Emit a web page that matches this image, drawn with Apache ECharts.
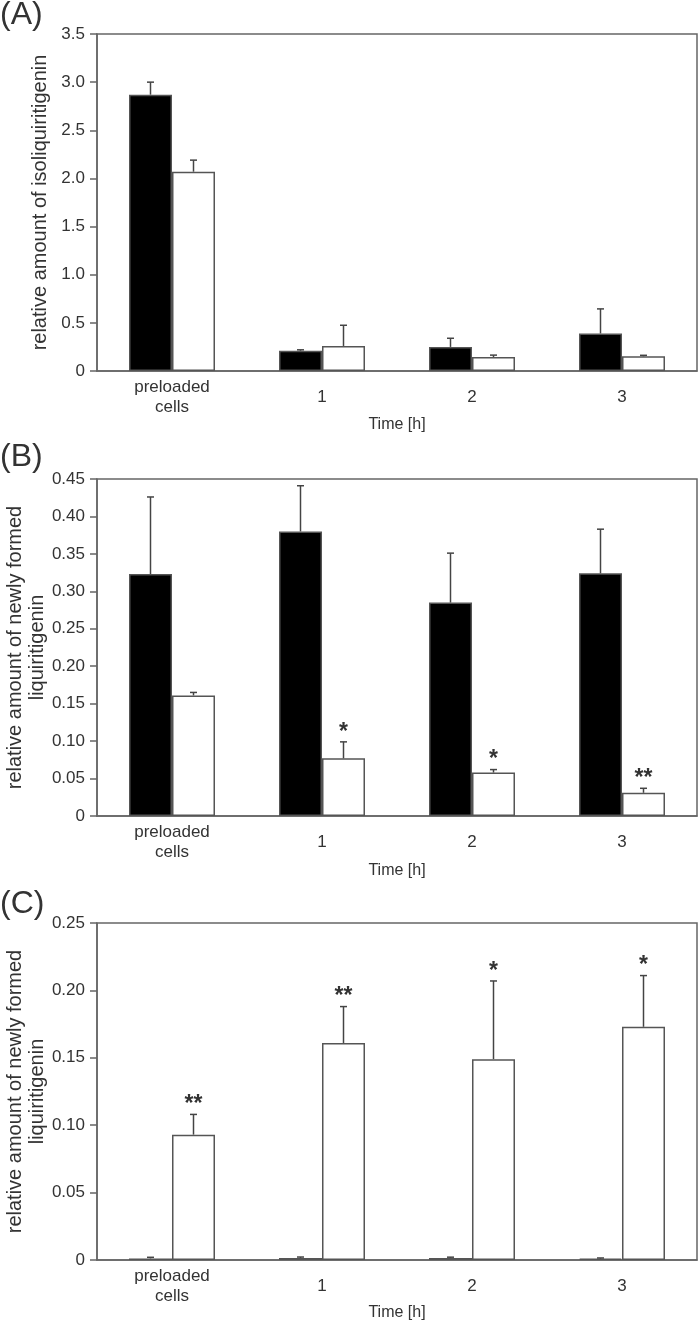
<!DOCTYPE html>
<html>
<head>
<meta charset="utf-8">
<script src="https://cdn.jsdelivr.net/npm/echarts@6/dist/echarts.min.js"></script>
<style>
html,body{margin:0;padding:0;background:#fff;}
#chart{width:700px;height:1325px;}
</style>
</head>
<body>
<div id="chart"></div>
<script>
// ---- data ----
const categories = ['preloaded\ncells', '1', '2', '3'];

const aBlack = [2.87, 0.21, 0.25, 0.39];
const aBlackErr = [0.13, 0.01, 0.09, 0.255];
const aWhite = [2.07, 0.26, 0.145, 0.153];
const aWhiteErr = [0.12, 0.215, 0.02, 0.01];
const aTicks = ['0', '0.5', '1.0', '1.5', '2.0', '2.5', '3.0', '3.5'];

const bBlack = [0.323, 0.380, 0.285, 0.324];
const bBlackErr = [0.103, 0.061, 0.066, 0.059];
const bWhite = [0.161, 0.077, 0.058, 0.031];
const bWhiteErr = [0.004, 0.022, 0.004, 0.006];
const bStars = ['', '*', '*', '**'];
const bTicks = ['0', '0.05', '0.10', '0.15', '0.20', '0.25', '0.30', '0.35', '0.40', '0.45'];

const cBlack = [0.0012, 0.0015, 0.0015, 0.001];
const cBlackErr = [0.0008, 0.0007, 0.0006, 0.0005];
const cWhite = [0.093, 0.161, 0.149, 0.173];
const cWhiteErr = [0.015, 0.027, 0.058, 0.038];
const cStars = ['**', '**', '*', '*'];
const cTicks = ['0', '0.05', '0.10', '0.15', '0.20', '0.25'];

const yNameA = 'relative amount of isoliquiritigenin';
const yNameBC = 'relative amount of newly formed\nliquiritigenin';
const xName = 'Time [h]';

// ---- styling ----
const FONT = "'Liberation Sans', Arial, Helvetica, sans-serif";
const TXT = '#333';
const AX = '#666';
const BAR_W = 43;

const panels = [
  {top: 34, black: aBlack, blackErr: aBlackErr, white: aWhite, whiteErr: aWhiteErr, stars: null,
   max: 3.5, interval: 0.5, ticks: aTicks, yName: yNameA, nameGap: 46, xGap: 46, letter: '(A)', letterY: 17},
  {top: 479, black: bBlack, blackErr: bBlackErr, white: bWhite, whiteErr: bWhiteErr, stars: bStars,
   max: 0.45, interval: 0.05, ticks: bTicks, yName: yNameBC, nameGap: 49, xGap: 47, letter: '(B)', letterY: 459},
  {top: 923, black: cBlack, blackErr: cBlackErr, white: cWhite, whiteErr: cWhiteErr, stars: cStars,
   max: 0.25, interval: 0.05, ticks: cTicks, yName: yNameBC, nameGap: 49, xGap: 45, letter: '(C)', letterY: 906}
];

function makeErr(side, stars) {
  return function (params, api) {
    const k = api.value(0), m = api.value(1), e = api.value(2);
    const p0 = api.coord([k, m]);
    const p1 = api.coord([k, m + e]);
    const x = p0[0] + side * BAR_W / 2;
    const ls = {stroke: '#444', lineWidth: 1.5};
    const children = [
      {type: 'line', shape: {x1: x, y1: p0[1], x2: x, y2: p1[1]}, style: ls},
      {type: 'line', shape: {x1: x - 3.5, y1: p1[1], x2: x + 3.5, y2: p1[1]}, style: ls}
    ];
    if (stars && stars[params.dataIndex]) {
      children.push({
        type: 'text',
        style: {
          text: stars[params.dataIndex], x: x, y: p1[1] - 21,
          align: 'center', textAlign: 'center', verticalAlign: 'top', textVerticalAlign: 'top',
          font: 'bold 23px ' + FONT, fill: TXT
        }
      });
    }
    return {type: 'group', children: children};
  };
}

const grid = [], xAxis = [], yAxis = [], series = [], graphic = [];
panels.forEach((p, i) => {
  grid.push({left: 97, width: 600, top: p.top, height: 337, show: true,
    containLabel: false, outerBoundsMode: 'none',
    borderColor: AX, borderWidth: 1.5, backgroundColor: 'transparent'});
  xAxis.push({
    gridIndex: i, type: 'category', data: categories,
    name: xName, nameLocation: 'middle', nameGap: p.xGap, nameMoveOverlap: false,
    nameTextStyle: {fontFamily: FONT, fontSize: 16, color: TXT},
    axisLine: {lineStyle: {color: AX, width: 1.5}},
    axisTick: {show: false},
    axisLabel: {
      interval: 0, margin: 6, fontFamily: FONT, fontSize: 17, color: TXT, lineHeight: 20,
      formatter: v => v.indexOf('\n') >= 0 ? v : '{s|' + v + '}',
      rich: {s: {lineHeight: 40, fontFamily: FONT, fontSize: 17, color: TXT}}
    }
  });
  yAxis.push({
    gridIndex: i, type: 'value', min: 0, max: p.max, interval: p.interval,
    name: p.yName, nameLocation: 'middle', nameRotate: 90, nameGap: p.nameGap, nameMoveOverlap: false,
    nameTextStyle: {fontFamily: FONT, fontSize: 20, color: TXT, lineHeight: 22, align: 'center'},
    axisLine: {show: true, lineStyle: {color: AX, width: 1.5}},
    axisTick: {show: true, length: 7, lineStyle: {color: AX, width: 1.5}},
    splitLine: {show: false},
    axisLabel: {
      margin: 12, fontFamily: FONT, fontSize: 17, color: TXT,
      formatter: (v) => p.ticks[Math.round(v / p.interval)]
    }
  });
  series.push({
    type: 'bar', xAxisIndex: i, yAxisIndex: i, data: p.black, barWidth: BAR_W, barGap: '0%',
    itemStyle: {color: '#000', borderColor: '#555', borderWidth: 1.5}, silent: true
  });
  series.push({
    type: 'bar', xAxisIndex: i, yAxisIndex: i, data: p.white, barWidth: BAR_W, barGap: '0%',
    itemStyle: {color: '#fff', borderColor: '#555', borderWidth: 1.5}, silent: true
  });
  series.push({
    type: 'custom', xAxisIndex: i, yAxisIndex: i, z: 5, clip: false, silent: true,
    data: p.black.map((v, k) => [k, v, p.blackErr[k]]),
    renderItem: makeErr(-1, null)
  });
  series.push({
    type: 'custom', xAxisIndex: i, yAxisIndex: i, z: 5, clip: false, silent: true,
    data: p.white.map((v, k) => [k, v, p.whiteErr[k]]),
    renderItem: makeErr(1, p.stars)
  });
  graphic.push({
    type: 'text', left: 0, top: p.letterY - 18,
    style: {text: p.letter, font: '32px ' + FONT, fill: TXT}
  });
});

const chart = echarts.init(document.getElementById('chart'), null, {renderer: 'canvas'});
chart.setOption({
  animation: false,
  backgroundColor: '#fff',
  grid: grid, xAxis: xAxis, yAxis: yAxis, series: series, graphic: graphic
});
</script>
</body>
</html>
